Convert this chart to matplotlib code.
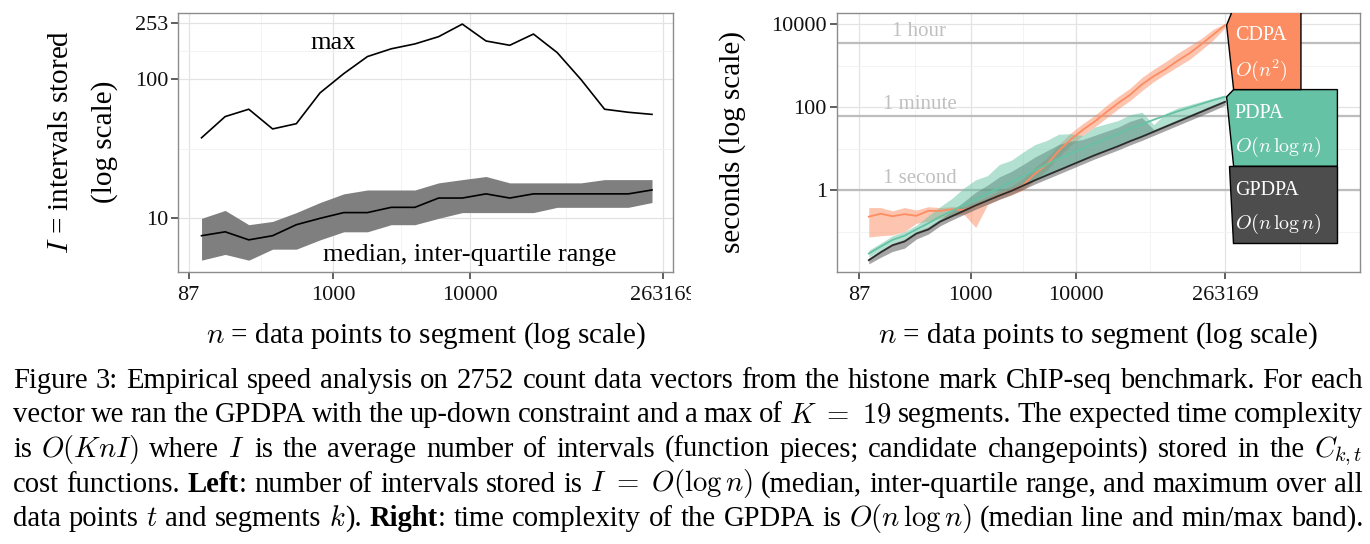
'''
Empirical speed analysis figure: intervals stored (left) and timings (right)
'''
import re
import numpy as np
import matplotlib
matplotlib.use('Agg')
import matplotlib.pyplot as plt
from matplotlib.patches import Polygon, Rectangle
from matplotlib.ticker import NullFormatter

plt.rcParams['font.family'] = ['Liberation Serif', 'DejaVu Serif']
plt.rcParams['mathtext.fontset'] = 'cm'

# ====== left panel: intervals stored =================
bin_n = [108, 161, 240, 359, 536, 800, 1194, 1782, 2661, 3972,
         5929, 8851, 13213, 19724, 29444, 43954, 65615, 97949, 146218, 218273]
max_intervals = [38, 54, 61, 44, 48, 80, 110, 146, 166, 180,
                 203, 250, 189, 176, 212, 156, 100, 61, 58, 56]
q1_intervals = [5, 5.5, 5, 6, 6, 7, 8, 8, 9, 9,
                10, 11, 11, 11, 11, 12, 12, 12, 12, 13]
median_intervals = [7.5, 8, 7, 7.5, 9, 10, 11, 11, 12, 12,
                    14, 14, 15, 14, 15, 15, 15, 15, 15, 16]
q3_intervals = [10, 11.4, 9, 9.5, 11, 13, 15, 16, 16, 16,
                18, 19, 20, 18, 18, 18, 18, 19, 19, 19]
left_yticks = [10, 100, 253]

# ====== right panel: seconds (log10) =================
right_n = [107, 139, 180, 234, 303, 394, 511, 662, 859, 1114, 1445, 1875,
           2432, 3155, 4093, 5309, 6887, 8933, 11588, 15031, 19498, 25293,
           32810, 42560, 55208, 71614, 92897, 120504, 156315, 202768, 263169]
cdpa_med = [-0.64, -0.57, -0.63, -0.58, -0.62, -0.50, -0.50, -0.46, -0.48, -0.38, -0.25,
            -0.12, -0.02, 0.12, 0.40, 0.62, 0.95, 1.22, 1.45, 1.65, 1.88,
            2.10, 2.30, 2.55, 2.75, 2.92, 3.12, 3.30, 3.52, 3.75, 3.98]
cdpa_lo = [-1.13, -1.10, -1.08, -1.00, -0.80, -0.75, -0.68, -0.62, -0.58, -0.90, -0.35,
           -0.22, -0.12, 0.00, 0.25, 0.48, 0.80, 1.08, 1.32, 1.52, 1.74,
           1.96, 2.16, 2.40, 2.62, 2.80, 2.98, 3.15, 3.38, 3.62, 3.92]
cdpa_hi = [-0.42, -0.42, -0.50, -0.42, -0.48, -0.40, -0.42, -0.40, -0.40, -0.28, -0.15,
           -0.02, 0.10, 0.28, 0.55, 0.78, 1.10, 1.38, 1.60, 1.80, 2.04,
           2.26, 2.46, 2.72, 2.92, 3.10, 3.30, 3.48, 3.66, 3.88, 4.02]
pdpa_med = [-1.53, -1.36, -1.20, -1.10, -0.95, -0.80, -0.64, -0.50, -0.36, -0.22, -0.08,
            0.06, 0.20, 0.34, 0.48, 0.62, 0.76, 0.88, 1.00, 1.12, 1.24,
            1.36, 1.48, 1.59, 1.70, 1.80, 1.90, 1.99, 2.08, 2.17, 2.25]
pdpa_lo = [-1.62, -1.45, -1.28, -1.18, -1.02, -0.88, -0.72, -0.58, -0.45, -0.32, -0.20,
           -0.08, 0.03, 0.15, 0.27, 0.38, 0.50, 0.62, 0.74, 0.86, 0.97,
           1.08, 1.20, 1.31, 1.43, 1.55, 1.67, 1.79, 1.91, 2.03, 2.14]
pdpa_hi = [-1.45, -1.28, -1.10, -1.00, -0.85, -0.62, -0.40, -0.20, 0.05, 0.25, 0.35,
           0.62, 0.72, 0.92, 1.10, 1.20, 1.35, 1.36, 1.32, 1.52, 1.60,
           1.68, 1.82, 1.88, 1.58, 1.85, 1.98, 2.06, 2.14, 2.22, 2.30]
gpdpa_med = [-1.69, -1.50, -1.33, -1.24, -1.05, -0.95, -0.76, -0.63, -0.50, -0.37, -0.25,
             -0.13, -0.02, 0.11, 0.24, 0.36, 0.48, 0.60, 0.72, 0.84, 0.95,
             1.06, 1.18, 1.29, 1.41, 1.53, 1.65, 1.77, 1.89, 2.01, 2.13]
gpdpa_lo = [-1.78, -1.62, -1.48, -1.40, -1.18, -1.06, -0.86, -0.72, -0.59, -0.46, -0.34,
            -0.22, -0.11, 0.02, 0.15, 0.27, 0.39, 0.51, 0.63, 0.75, 0.86,
            0.97, 1.09, 1.20, 1.32, 1.44, 1.56, 1.68, 1.80, 1.92, 2.05]
gpdpa_hi = [-1.64, -1.45, -1.28, -1.18, -1.00, -0.88, -0.70, -0.50, -0.28, -0.05, 0.12,
            0.32, 0.45, 0.62, 0.80, 0.95, 1.10, 1.18, 1.22, 1.32, 1.42,
            1.52, 1.66, 1.75, 1.46, 1.58, 1.70, 1.82, 1.94, 2.06, 2.17]
right_yticks = [1, 100, 10000]
ref_seconds = [1, 60, 3600]
ref_names = ['1 second', '1 minute', '1 hour']

algos = ['CDPA', 'GPDPA', 'PDPA']
algo_colors = {'CDPA': '#fc8d62', 'PDPA': '#66c2a5', 'GPDPA': '#4d4d4d'}
algo_complexity = {'CDPA': r'$O(n^2)$', 'PDPA': r'$O(n\,\log n)$', 'GPDPA': r'$O(n\,\log n)$'}

n_ticks = [87, 1000, 10000, 263169]

caption_lines = [
    r"Figure 3: Empirical speed analysis on 2752 count data vectors from the histone mark ChIP-seq benchmark. For each",
    r"vector we ran the GPDPA with the up-down constraint and a max of $K\ =\ 19$ segments. The expected time complexity",
    r"is $O(KnI)$ where $I$ is the average number of intervals (function pieces; candidate changepoints) stored in the $C_{k,t}$",
    r"cost functions. **Left**: number of intervals stored is $I\ =\ O(\log n)$ (median, inter-quartile range, and maximum over all",
    r"data points $t$ and segments $k$). **Right**: time complexity of the GPDPA is $O(n\,\log n)$ (median line and min/max band).",
]

W_PX, H_PX = 1370, 544
TICK_FS = 16
LABEL_FS = 21


def style_axes(ax, minor_x, minor_y):
    ax.set_xscale('log')
    ax.set_yscale('log')
    ax.set_xticks(n_ticks, [str(v) for v in n_ticks])
    ax.set_xticks(minor_x, minor=True)
    ax.set_yticks(minor_y, minor=True)
    ax.xaxis.set_minor_formatter(NullFormatter())
    ax.yaxis.set_minor_formatter(NullFormatter())
    ax.set_axisbelow(True)
    ax.grid(which='major', color='#e3e3e3', lw=0.9)
    ax.grid(which='minor', color='#f3f3f3', lw=0.7)
    for sp in ax.spines.values():
        sp.set_color('#8c8c8c')
        sp.set_linewidth(1.0)
    ax.tick_params(which='major', length=5, width=1.1, color='#333333',
                   labelsize=TICK_FS, labelcolor='#111111')
    ax.tick_params(axis='x', which='major', pad=5)
    ax.tick_params(axis='y', which='major', pad=2)
    ax.tick_params(which='minor', length=0)


def plot_left(fig):
    ax = fig.add_axes([178.3 / W_PX, 1 - 271.7 / H_PX, 494.7 / W_PX, 259 / H_PX])
    ax.fill_between(bin_n, q1_intervals, q3_intervals, color='#7f7f7f', lw=0)
    ax.plot(bin_n, median_intervals, color='black', lw=1.2)
    ax.plot(bin_n, max_intervals, color='black', lw=1.2)
    style_axes(ax, [295, 3162, 51300], [31.6, 159])
    ax.set_yticks(left_yticks, [str(v) for v in left_yticks])
    ax.set_xlim(10 ** 1.863, 10 ** 5.493)
    ax.set_ylim(10 ** 0.616, 10 ** 2.48)
    ax.text(1000, 184, 'max', ha='center', va='center', fontsize=19)
    ax.text(10000, 5.45, 'median, inter-quartile range', ha='center', va='center', fontsize=19)
    ax.text(-0.237, 0.5, r'$I$ = intervals stored', transform=ax.transAxes,
            rotation=90, ha='center', va='center', fontsize=LABEL_FS)
    ax.text(-0.150, 0.5, '(log scale)', transform=ax.transAxes,
            rotation=90, ha='center', va='center', fontsize=LABEL_FS)
    ax.text(0.5, -0.247, r'$n$ = data points to segment (log scale)', transform=ax.transAxes,
            ha='center', va='center', fontsize=LABEL_FS)
    return ax


def plot_right(fig):
    ax = fig.add_axes([836.7 / W_PX, 1 - 271.7 / H_PX, 523.3 / W_PX, 259 / H_PX])
    x = np.array(right_n)
    series = {
        'CDPA': (cdpa_lo, cdpa_med, cdpa_hi),
        'GPDPA': (gpdpa_lo, gpdpa_med, gpdpa_hi),
        'PDPA': (pdpa_lo, pdpa_med, pdpa_hi),
    }
    for name in algos:
        lo, med, hi = series[name]
        ax.fill_between(x, 10 ** np.array(lo), 10 ** np.array(hi),
                        color=algo_colors[name], alpha=0.5, lw=0, zorder=2)
    for name in algos:
        lo, med, hi = series[name]
        c = '#2b2b2b' if name == 'GPDPA' else algo_colors[name]
        ax.plot(x, 10 ** np.array(med), color=c, lw=1.3, zorder=3)

    for sec, lab in zip(ref_seconds, ref_names):
        ax.axhline(sec, color='#bdbdbd', lw=1.6, zorder=1.5)
        ax.annotate(lab, (325, sec), xytext=(0, 5), textcoords='offset points',
                    ha='center', va='baseline', color='#c0c0c0', fontsize=15)

    # direct labels: boxes pointing to the end of each median line (log10 units)
    end_x = np.log10(right_n[-1]) + 0.015
    boxes = {
        'CDPA': [(end_x, cdpa_med[-1]), (5.502, 4.40), (6.143, 4.40), (6.143, 2.426), (5.502, 2.426)],
        'GPDPA': [(5.457, 0.578), (6.49, 0.578), (6.49, -1.282), (5.498, -1.282)],
        'PDPA': [(end_x, pdpa_med[-1]), (5.502, 2.426), (6.49, 2.426), (6.49, 0.578), (5.502, 0.578)],
    }
    text_y = {'CDPA': (3.735, 2.892), 'PDPA': (1.847, 1.044), 'GPDPA': (0.0, -0.819)}
    for name in ['GPDPA', 'PDPA', 'CDPA']:
        pts = [(10 ** px, 10 ** py) for px, py in boxes[name]]
        ax.add_patch(Polygon(pts, closed=True, facecolor=algo_colors[name],
                             edgecolor='black', lw=1.0, zorder=5))
        y1, y2 = text_y[name]
        ax.text(10 ** 5.512, 10 ** y1, name, color='white', fontsize=14.5,
                ha='left', va='center', zorder=6)
        ax.text(10 ** 5.512, 10 ** y2, algo_complexity[name], color='white', fontsize=14.5,
                ha='left', va='center', zorder=6)

    style_axes(ax, [295, 3162, 51300, 1.35e6], [0.1, 10, 1000])
    ax.set_yticks(right_yticks, [str(v) for v in right_yticks])
    ax.set_xlim(10 ** 1.724, 10 ** 6.705)
    ax.set_ylim(10 ** -1.968, 10 ** 4.281)
    ax.text(-0.200, 0.5, 'seconds (log scale)', transform=ax.transAxes,
            rotation=90, ha='center', va='center', fontsize=LABEL_FS)
    ax.text(0.5, -0.247, r'$n$ = data points to segment (log scale)', transform=ax.transAxes,
            ha='center', va='center', fontsize=LABEL_FS)
    return ax


def split_words(line):
    words = re.findall(r'(?:\$[^$]*\$|[^\s$])+', line)
    out = []
    for w in words:
        pieces = []
        for p in re.findall(r'\*\*[^*]+\*\*|\$[^$]*\$|[^$*]+', w):
            if p.startswith('**'):
                pieces.append((p[2:-2], 'bold'))
            else:
                pieces.append((p, 'normal'))
        out.append(pieces)
    return out


def draw_caption(fig, fs, x0=13, x1=1363, base0=388, step=34.5):
    renderer = fig.canvas.get_renderer()
    lines = [split_words(l) for l in caption_lines]

    def measure(size):
        res = []
        for words in lines:
            wl = []
            for pieces in words:
                ts = []
                for s, weight in pieces:
                    t = fig.text(0, 0, s, fontsize=size, fontweight=weight,
                                 ha='left', va='baseline')
                    ts.append((t, t.get_window_extent(renderer).width))
                wl.append(ts)
            res.append(wl)
        return res

    em = fs * 100 / 72
    texts = measure(fs)
    need = max(sum(w for ts in wl for _, w in ts) + 0.22 * em * (len(wl) - 1) for wl in texts)
    if need > x1 - x0:
        for wl in texts:
            for ts in wl:
                for t, _ in ts:
                    t.remove()
        fs = fs * (x1 - x0) / need
        texts = measure(fs)

    for i, wl in enumerate(texts):
        total = sum(w for ts in wl for _, w in ts)
        gap = (x1 - x0 - total) / (len(wl) - 1)
        cur = x0
        ybase = 1 - (base0 + i * step) / H_PX
        for ts in wl:
            for t, w in ts:
                t.set_position((cur / W_PX, ybase))
                cur += w
            cur += gap


def main():
    fig = plt.figure(figsize=(W_PX / 100, H_PX / 100), dpi=100)
    plot_left(fig)
    plot_right(fig)
    # left panel viewport cuts the last tick label
    fig.add_artist(Rectangle((690.7 / W_PX, 1 - 320 / H_PX), 20 / W_PX, 40 / H_PX,
                             transform=fig.transFigure, facecolor='white',
                             edgecolor='none', zorder=20))
    draw_caption(fig, 21.2)
    fig.savefig('out.png', dpi=100)


if __name__ == '__main__':
    main()
